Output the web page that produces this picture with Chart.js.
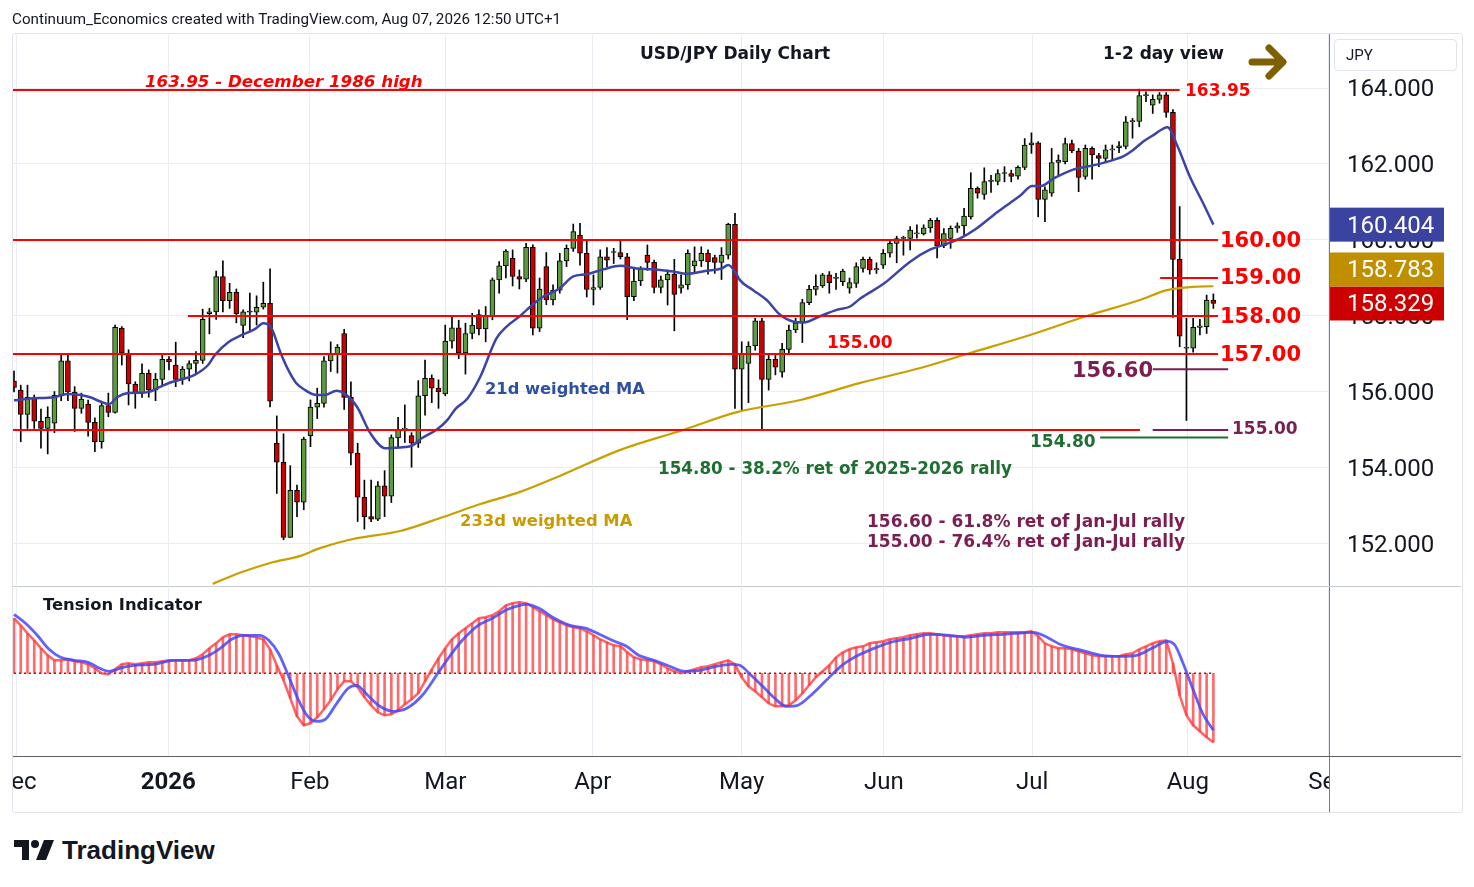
<!DOCTYPE html>
<html>
<head>
<meta charset="utf-8">
<title>USD/JPY Daily Chart</title>
<script src="https://cdn.jsdelivr.net/npm/chart.js@4.4.1/dist/chart.umd.min.js"></script>
<style>
  html, body { margin: 0; padding: 0; background: #fff; }
  body { width: 1474px; height: 887px; position: relative; overflow: hidden;
         font-family: Roboto, "Liberation Sans", Arial, sans-serif; color: #131722; }
  canvas { position: absolute; left: 0; }
  .abs { position: absolute; }
  .note { position: absolute; white-space: nowrap; line-height: 1;
          font-family: "DejaVu Sans", Verdana, sans-serif; font-weight: bold; }
</style>
</head>
<body>
<canvas id="price" width="1474" height="587" style="top:0"></canvas>
<canvas id="tension" width="1474" height="225" style="top:587px"></canvas>

<!-- masks so month labels stop at the pane edges -->
<div class="abs" style="left:0;top:757px;width:12px;height:55px;background:#fff"></div>
<div class="abs" style="left:1330px;top:757px;width:131px;height:54px;background:#fff"></div>

<!-- frame -->
<div class="abs" style="left:12px;top:33px;width:1449px;height:778px;border:1px solid #e0e3eb;border-radius:3px"></div>
<div class="abs" style="left:1329px;top:34px;width:1px;height:778px;background:#787b86"></div>
<div class="abs" style="left:13px;top:586px;width:1448px;height:1px;background:#c9ccd4"></div>
<div class="abs" style="left:13px;top:756px;width:1448px;height:1px;background:#5d606b"></div>

<div class="abs" style="left:12px;top:10px;font-size:15.2px;line-height:18px;white-space:nowrap">Continuum_Economics created with TradingView.com, Aug 07, 2026 12:50 UTC+1</div>
<div class="abs" style="left:1334px;top:39px;width:121px;height:30px;border:1px solid #e0e3eb;border-radius:4px;font-size:15px;line-height:30px;text-indent:11px">JPY</div>

<div class="note" style="left:640px;top:45px;font-size:17px;color:#131722">USD/JPY Daily Chart</div>
<div class="note" style="left:1103px;top:45px;font-size:17px;color:#131722">1-2 day view</div>
<svg class="abs" style="left:1246px;top:40px" width="46" height="44">
  <path d="M6 22 H35 M23 8 L37 22 L23 36" fill="none" stroke="#7f6000" stroke-width="7" stroke-linecap="round" stroke-linejoin="round"/>
</svg>

<div class="note" style="left:145px;top:73px;font-size:16.7px;color:#ff0000;font-style:italic">163.95 - December 1986 high</div>
<div class="note" style="left:1185px;top:82px;font-size:17px;color:#ff0000">163.95</div>
<div class="note" style="left:1220px;top:230px;font-size:21px;color:#ff0000">160.00</div>
<div class="note" style="left:1220px;top:267px;font-size:21px;color:#ff0000">159.00</div>
<div class="note" style="left:1220px;top:306px;font-size:21px;color:#ff0000">158.00</div>
<div class="note" style="left:1220px;top:344px;font-size:21px;color:#ff0000">157.00</div>
<div class="note" style="left:827px;top:334px;font-size:17px;color:#ff0000">155.00</div>
<div class="note" style="left:1072px;top:360px;font-size:21px;color:#7b1e50">156.60</div>
<div class="note" style="left:1232px;top:420px;font-size:17px;color:#7b1e50">155.00</div>
<div class="note" style="left:1030px;top:433px;font-size:17px;color:#1f6e32">154.80</div>
<div class="note" style="left:485px;top:381px;font-size:16.3px;color:#2d50a0">21d weighted MA</div>
<div class="note" style="left:658px;top:460px;font-size:16.8px;color:#1f6e32">154.80 - 38.2% ret of 2025-2026 rally</div>
<div class="note" style="left:460px;top:513px;font-size:16.4px;color:#c89b00">233d weighted MA</div>
<div class="note" style="left:867px;top:513px;font-size:17px;color:#7b1e50">156.60 - 61.8% ret of Jan-Jul rally</div>
<div class="note" style="left:867px;top:533px;font-size:17px;color:#7b1e50">155.00 - 76.4% ret of Jan-Jul rally</div>
<div class="note" style="left:43px;top:597px;font-size:16.4px;color:#131722">Tension Indicator</div>

<svg class="abs" style="left:14px;top:838px" width="42" height="24">
  <path d="M0 2 H15 V22 H8 V9 H0 Z" fill="#131722"/>
  <circle cx="21" cy="6" r="4" fill="#131722"/>
  <path d="M30 2 H40 L32 22 H22 Z" fill="#131722"/>
</svg>
<div class="abs" style="left:62px;top:836px;font-size:26px;line-height:28px;font-weight:bold;font-family:'Liberation Sans',Arial,sans-serif">TradingView</div>

<script>
const FONT_UI = 'Roboto, "Liberation Sans", Arial, sans-serif';

// daily candles, one per bar (bar 0 = first visible day in early December)
const opens = [
  156.29,156.05,155.41,155.86,155.23,155.04,155.18,155.91,156.82,156.00,
  155.57,155.68,155.20,154.69,155.64,155.46,157.68,157.02,156.21,155.97,
  156.49,156.05,156.33,156.86,156.71,156.33,156.60,156.75,156.83,158.06,
  158.11,159.04,158.40,158.62,157.75,158.11,158.10,158.23,158.33,154.65,
  154.15,152.17,153.41,153.10,154.85,155.60,155.70,156.82,156.99,157.54,
  155.86,154.39,153.23,152.72,152.65,153.53,153.26,154.79,155.02,154.85,
  154.65,155.90,156.36,156.10,155.95,157.34,157.69,157.03,157.54,158.04,
  157.66,158.00,158.95,159.32,159.52,159.04,158.97,159.81,157.68,159.30,
  158.42,158.68,159.45,159.78,160.13,159.65,158.70,158.75,159.56,159.67,
  159.67,159.56,158.51,158.92,159.60,159.41,158.75,158.95,159.10,158.73,
  158.82,159.32,159.45,159.65,159.54,159.41,159.60,160.41,156.60,156.75,
  157.21,157.87,156.33,156.86,156.52,157.12,157.63,157.82,158.35,158.70,
  158.79,159.08,158.99,158.90,158.73,158.86,159.25,159.49,159.21,159.34,
  159.65,159.91,160.04,160.04,160.16,160.16,160.32,160.52,159.85,160.04,
  160.31,160.37,160.61,161.36,161.20,161.54,161.54,161.75,161.75,161.68,
  161.91,162.50,162.56,161.07,161.23,162.04,162.06,162.54,162.34,161.67,
  162.41,162.22,162.15,162.37,162.43,162.46,163.11,163.12,163.80,163.55,
  163.70,163.82,163.36,159.49,157.15,157.15,157.70,157.72,158.42
];
const highs = [
  156.55,156.18,156.18,155.92,155.55,155.61,156.01,156.99,156.99,156.14,
  155.97,155.79,155.32,155.75,155.97,157.76,157.72,157.11,156.27,156.74,
  156.58,156.49,156.99,156.93,157.31,156.67,156.82,157.06,158.18,158.20,
  159.18,159.45,158.86,158.71,158.16,158.60,158.53,158.89,159.24,155.37,
  154.90,154.06,153.55,154.81,155.79,156.10,156.93,157.32,157.25,157.65,
  156.27,154.65,153.68,153.68,153.64,153.93,154.87,155.33,155.66,154.93,
  156.30,156.84,156.45,156.32,157.76,158.00,157.89,157.81,158.07,158.16,
  158.25,159.00,159.43,159.75,159.74,159.21,159.91,159.87,159.00,159.67,
  158.82,159.65,159.87,160.42,160.44,159.98,159.08,159.74,159.80,159.78,
  159.97,159.65,159.25,159.30,159.87,159.47,159.05,159.21,159.49,159.08,
  159.74,159.82,159.82,159.74,159.60,159.80,160.44,160.70,157.32,157.32,
  157.94,157.94,156.97,156.97,157.28,157.76,157.94,158.44,158.81,159.08,
  159.12,159.17,159.12,159.23,159.00,159.40,159.55,159.55,159.40,159.75,
  160.00,160.10,160.10,160.35,160.40,160.40,160.57,160.58,160.30,160.37,
  160.45,160.83,161.77,161.40,161.90,161.70,161.85,161.93,161.84,161.95,
  162.67,162.82,162.59,161.40,162.41,162.24,162.68,162.63,162.41,162.50,
  162.45,162.28,162.50,162.50,162.59,163.25,163.20,163.97,163.90,163.82,
  163.88,163.88,163.43,160.88,157.94,157.94,157.91,158.55,158.58
];
const lows = [
  156.00,154.69,155.04,155.04,154.52,154.37,154.93,155.77,155.77,154.96,
  155.44,154.84,154.43,154.52,155.35,155.44,156.71,155.66,155.57,155.86,
  155.86,155.77,156.18,156.58,156.14,156.20,156.29,156.47,156.75,157.53,
  157.91,158.11,158.20,157.82,157.43,157.60,157.76,158.18,155.61,153.33,
  152.11,152.17,152.72,152.90,154.56,155.30,155.60,156.54,156.50,155.54,
  154.08,152.59,152.39,152.59,152.61,152.72,153.09,154.54,154.67,154.02,
  154.54,155.39,155.72,155.57,155.90,157.15,156.88,156.47,157.40,157.50,
  157.32,157.90,158.60,159.00,158.79,158.71,158.90,157.50,157.59,158.30,
  158.29,158.60,159.30,159.70,159.34,158.50,158.29,158.70,159.30,159.38,
  159.50,157.90,158.40,158.80,159.20,158.61,158.61,158.29,157.61,158.60,
  158.70,159.12,159.30,159.10,159.12,158.96,159.50,155.57,155.53,155.72,
  157.10,155.02,156.05,156.45,156.39,157.00,157.56,157.30,158.30,158.55,
  158.75,158.60,158.70,158.80,158.60,158.75,159.15,159.10,159.12,159.25,
  159.55,159.40,159.60,159.74,160.05,160.13,160.20,159.53,159.80,159.78,
  160.20,160.09,160.55,161.10,161.07,161.25,161.45,161.53,161.53,161.60,
  161.85,162.28,160.61,160.48,161.15,161.67,162.00,162.30,161.27,161.60,
  161.60,161.93,162.05,162.10,162.30,162.40,162.68,162.98,163.64,163.33,
  163.60,163.23,157.96,157.19,155.25,157.05,157.50,157.54,158.20
];
const closes = [
  156.12,155.41,155.86,155.23,155.04,155.33,155.91,156.82,156.00,155.57,
  155.81,155.20,154.69,155.64,155.46,157.70,157.02,156.21,155.97,156.49,
  156.05,156.33,156.86,156.80,156.33,156.60,156.75,156.83,157.91,158.11,
  159.04,158.40,158.62,158.06,158.11,158.10,158.23,158.33,155.76,154.15,
  152.17,153.41,153.10,154.76,155.60,155.70,156.82,156.99,157.18,155.86,
  154.39,153.23,152.72,152.65,153.53,153.26,154.80,155.00,155.05,154.65,
  155.90,156.36,156.10,156.01,157.34,157.69,157.03,157.54,157.76,157.66,
  158.00,158.95,159.32,159.71,159.04,158.97,159.81,157.68,158.71,158.42,
  158.68,159.45,159.78,160.22,159.65,158.70,158.75,159.56,159.47,159.67,
  159.56,158.51,158.92,159.23,159.41,158.75,158.95,159.10,158.57,158.82,
  159.65,159.45,159.65,159.43,159.41,159.60,160.41,156.60,156.99,157.21,
  157.87,156.33,156.86,156.65,157.12,157.63,157.82,158.35,158.70,158.79,
  159.08,158.88,158.99,159.18,158.88,159.30,159.49,159.21,159.25,159.65,
  159.91,160.04,160.07,160.26,160.16,160.32,160.52,159.85,160.17,160.31,
  160.37,160.63,161.36,161.23,161.54,161.58,161.75,161.76,161.67,161.91,
  162.50,162.56,161.07,161.32,162.04,162.10,162.54,162.35,161.65,162.41,
  162.24,162.15,162.37,162.40,162.48,163.11,163.14,163.80,163.81,163.70,
  163.82,163.36,159.49,157.47,157.17,157.70,157.74,158.42,158.329
];

// moving averages (bar position, value)
const ma21Bars = [0,2.4,5.9,7.9,9.9,11.3,12.8,14.1,15.3,17,18.8,20.2,21.5,23.2,26.8,28.8,29.8,31.8,33.8,35.8,
  37,38.2,39.5,40.7,41.9,43.2,44.9,46.1,47.9,49.1,50.9,52.9,55.1,57.3,59,60.5,62.8,64.3,65.5,67.3,
  69.2,71.6,73.1,75.1,76.1,78.1,81,83,85,87.5,90,92.4,94.9,97.8,99.8,102.8,105,106,107,107.7,
  109.7,111.7,113.7,115.7,117.2,119.7,122.1,124.1,125.6,129,133,136,138.4,140.4,142.9,145.4,147.4,149.4,151.1,152.4,
  154.3,157.3,160.3,163.2,164.7,166.1,167.6,169.1,171.2,172.6,174.5,176.5,178];
const ma21Vals = [155.78,155.83,155.86,155.95,155.92,155.86,155.75,155.68,155.86,155.97,155.98,156.01,156.12,156.25,156.45,156.71,156.97,157.31,157.50,157.66,
  157.81,157.68,157.06,156.58,156.23,156.05,155.92,155.92,156.03,155.95,155.61,154.91,154.52,154.54,154.58,154.78,155.02,155.26,155.55,155.83,
  156.40,157.41,157.72,158.00,158.16,158.46,158.73,159.04,159.10,159.23,159.32,159.25,159.23,159.17,159.11,159.19,159.25,159.34,159.17,158.95,
  158.68,158.42,158.03,157.85,157.83,158.00,158.16,158.25,158.46,158.84,159.43,159.75,159.90,160.04,160.31,160.66,160.92,161.18,161.42,161.42,
  161.62,161.86,161.97,162.11,162.21,162.37,162.59,162.76,162.97,162.50,161.67,160.96,160.404];
const ma233Bars = [29.5,33.5,38,42.4,45.4,50.3,57.3,63.7,69.2,75.1,81,89.9,99.3,107.3,116.7,125.6,134.5,141.4,150.8,159.2,167.1,171.1,174.5,178];
const ma233Vals = [150.95,151.24,151.50,151.68,151.89,152.13,152.34,152.71,153.05,153.37,153.79,154.47,155.00,155.47,155.79,156.24,156.63,157.00,157.50,158.00,158.42,158.68,158.76,158.783];

// tension indicator: histogram/fast line per bar, slow line read at these bars
const tension = [
  55,48,40,33,25,18,13,13,14,12, 11,9,5,0,-1,4,9,10,9,10,
  11,11,12,13,13,13,13,15,19,25, 30,36,39,39,38,37,36,34,24,8,
  -7,-25,-43,-52,-50,-44,-36,-27,-16,-8, -8,-14,-24,-32,-39,-42,-41,-37,-31,-26,
  -20,-8,4,15,25,34,40,45,50,55, 56,58,62,68,70,71,70,66,62,58,
  54,51,48,46,45,42,38,34,31,28, 27,21,16,14,13,12,9,5,2,0,
  2,4,6,7,9,11,13,9,-4,-13, -18,-24,-30,-33,-33,-32,-27,-20,-12,-4,
  2,8,16,21,24,26,27,30,31,32, 34,35,36,38,39,40,40,39,38,37,
  37,37,38,39,40,40,41,41,41,41, 41,42,37,30,27,25,25,24,22,20,
  18,17,17,17,17,19,20,24,27,30, 32,33,10,-22,-42,-52,-58,-64,-69
];
const signalBars = [0,1.7,3.45,5.2,6.9,8.9,11,12.7,14.1,16.15,17.9,20.8,23.7,26.5,28.9,30.6,32.3,34.05,36.4,37.8,
  39.25,40.7,42.1,43.6,45,46.2,47.9,49.6,50.8,52.5,54.3,56.3,58.3,60.6,62.9,64.65,66.4,68.7,71,73.3,
  76.2,77.9,80.2,82.5,84.9,87.2,89.5,90.9,92.7,95,97.3,99.6,101.9,104.2,106.5,107.7,109.4,111.1,112.9,114.6,
  116.3,118.1,120.4,122.7,125,127.3,129.6,133.1,136,138.9,141.2,144,146.9,151.3,152.7,155.6,158.5,161.4,164.3,166.6,
  168.9,171.2,172.3,173.5,175.2,176.4,178];
const signalVals = [59,50,38,24,16,13,11,5,2,6,8,9,13,13,18,25,34,38,38,33,
  20,-2,-25,-43,-48,-46,-30,-15,-12,-22,-33,-38,-35,-22,0,17,32,47,55,64,
  69,65,55,48,45,38,31,27,18,13,7,2,3,7,9,8,-2,-13,-25,-33,
  -32,-23,-8,7,17,24,30,35,39,38,36,38,39,41,38,28,23,18,17,18,
  25,32,28,10,-20,-40,-57];

// axes
const monthBars = [0.3, 22.9, 43.9, 64.0, 85.9, 108.0, 129.1, 151.1, 174.2, 195.1];
const monthLabels = ['Dec', '2026', 'Feb', 'Mar', 'Apr', 'May', 'Jun', 'Jul', 'Aug', 'Sep'];
const priceTicks = [152, 154, 156, 158, 160, 162, 164];

// support / resistance levels
const levelPrices = [163.95, 160.00, 159.00, 158.00, 157.00, 155.00, 156.60, 155.00, 154.80];

const RED = '#ff0000', PURPLE = '#7b1e50', GREEN = '#1f6e32';
const levelStyle = [
  {from: -1, to: 173.0, color: RED},
  {from: -1, to: 178.7, color: RED},
  {from: 170.1, to: 178.7, color: RED},
  {from: 25.8, to: 178.7, color: RED},
  {from: -1, to: 178.7, color: RED},
  {from: -1, to: 167.1, color: RED},
  {from: 169.0, to: 180.2, color: PURPLE},
  {from: 169.0, to: 180.2, color: PURPLE},
  {from: 161.2, to: 180.2, color: GREEN},
];

const X_MIN = -0.15, X_MAX = 195.16;
const GRID = '#e8edf3';

const pairs = (xs, ys) => xs.map((x, i) => ({x, y: ys[i]}));

const levelSets = levelPrices.map((p, k) => ({
  type: 'line',
  data: [{x: levelStyle[k].from, y: p}, {x: levelStyle[k].to, y: p}],
  borderColor: levelStyle[k].color,
  borderWidth: 2,
  pointRadius: 0,
  order: 0,
}));

// price tags on the right axis; overlapping tags get pushed up like TradingView does
const lastValueTags = {
  id: 'lastValueTags',
  afterDraw(chart) {
    const y = chart.scales.y;
    const ctx = chart.ctx;
    const tags = [
      [closes[closes.length - 1], '#cc0000'],
      [ma233Vals[ma233Vals.length - 1], '#bf8f00'],
      [ma21Vals[ma21Vals.length - 1], '#3b43a0'],
    ].map(([v, c]) => ({v, c, py: y.getPixelForValue(v)}))
     .sort((a, b) => b.py - a.py);
    for (let i = 1; i < tags.length; i++) {
      if (tags[i].py > tags[i - 1].py - 34) tags[i].py = tags[i - 1].py - 34;
    }
    const left = chart.chartArea.right + 1;
    ctx.save();
    ctx.font = '24px ' + FONT_UI;
    ctx.textBaseline = 'middle';
    for (const t of tags) {
      ctx.fillStyle = t.c;
      ctx.fillRect(left, t.py - 17, 114, 34);
      ctx.fillStyle = '#ffffff';
      ctx.fillText(t.v.toFixed(3), chart.chartArea.right + 18, t.py + 2);
    }
    ctx.restore();
  }
};

const bodyColors = closes.map((c, i) => c >= opens[i] ? '#5c9c3e' : '#cc0000');

new Chart(document.getElementById('price'), {
  type: 'bar',
  data: {
    datasets: [
      ...levelSets,
      {
        type: 'line',
        data: pairs(ma21Bars, ma21Vals),
        borderColor: '#3c44a6',
        borderWidth: 2.5,
        pointRadius: 0,
        cubicInterpolationMode: 'monotone',
        order: 1,
      },
      {
        type: 'line',
        data: pairs(ma233Bars, ma233Vals),
        borderColor: '#c9a000',
        borderWidth: 2.2,
        pointRadius: 0,
        cubicInterpolationMode: 'monotone',
        order: 1,
      },
      {
        data: opens.map((o, i) => ({x: i, y: [o, closes[i]]})),
        backgroundColor: bodyColors,
        borderColor: '#000000',
        borderWidth: 1,
        borderSkipped: false,
        barThickness: 5,
        minBarLength: 1,
        grouped: false,
        order: 2,
      },
      {
        data: lows.map((l, i) => ({x: i, y: [l, highs[i]]})),
        backgroundColor: '#000000',
        borderWidth: 0,
        barThickness: 1,
        grouped: false,
        order: 3,
      },
    ]
  },
  options: {
    responsive: false,
    animation: false,
    layout: {padding: {left: 13, top: 35, right: 0, bottom: 2}},
    plugins: {legend: {display: false}, tooltip: {enabled: false}},
    scales: {
      x: {
        type: 'linear',
        min: X_MIN, max: X_MAX,
        offset: false,
        grid: {color: GRID, drawTicks: false, offset: false},
        border: {display: false},
        ticks: {display: false},
        afterBuildTicks: s => { s.ticks = monthBars.map(v => ({value: v})); },
        afterFit: s => { s.height = 0; s.paddingLeft = 0; s.paddingRight = 0; },
      },
      y: {
        position: 'right',
        min: 150.92, max: 165.395,
        grid: {color: GRID, drawTicks: false},
        border: {display: false},
        ticks: {
          padding: 18,
          labelOffset: 2,
          color: '#131722',
          font: {size: 24, family: FONT_UI},
          callback: v => Number(v).toFixed(3),
        },
        afterBuildTicks: s => { s.ticks = priceTicks.map(v => ({value: v})); },
        afterFit: s => { s.width = 145; s.paddingTop = 0; s.paddingBottom = 0; },
      }
    }
  },
  plugins: [lastValueTags]
});

new Chart(document.getElementById('tension'), {
  type: 'bar',
  data: {
    datasets: [
      {
        type: 'line',
        data: pairs(signalBars, signalVals),
        borderColor: 'rgba(70,70,250,0.85)',
        borderWidth: 2.8,
        pointRadius: 0,
        cubicInterpolationMode: 'monotone',
        order: 0,
      },
      {
        type: 'line',
        data: tension.map((v, i) => ({x: i, y: v})),
        borderColor: 'rgba(255,60,60,0.8)',
        borderWidth: 2.5,
        pointRadius: 0,
        order: 1,
      },
      {
        type: 'line',
        data: [{x: 0, y: 0}, {x: tension.length - 1, y: 0}],
        borderColor: '#dd0000',
        borderWidth: 1.5,
        borderDash: [2, 3],
        pointRadius: 0,
        order: 2,
      },
      {
        data: tension.map((v, i) => ({x: i, y: v})),
        backgroundColor: 'rgba(255,70,70,0.8)',
        borderWidth: 0,
        barThickness: 2,
        grouped: false,
        order: 3,
      },
    ]
  },
  options: {
    responsive: false,
    animation: false,
    layout: {padding: {left: 13, top: 1, right: 0, bottom: 0}},
    plugins: {legend: {display: false}, tooltip: {enabled: false}},
    scales: {
      x: {
        type: 'linear',
        min: X_MIN, max: X_MAX,
        offset: false,
        grid: {color: GRID, drawTicks: false, offset: false},
        border: {display: false},
        ticks: {
          autoSkip: false,
          maxRotation: 0,
          padding: 13,
          color: '#131722',
          font: c => ({size: 24, family: FONT_UI, weight: c.index === 1 ? 'bold' : 'normal'}),
          callback: (v, i) => monthLabels[i],
        },
        afterBuildTicks: s => { s.ticks = monthBars.map(v => ({value: v})); },
        afterFit: s => { s.height = 56; s.paddingLeft = 0; s.paddingRight = 0; },
      },
      y: {
        position: 'right',
        min: -82.7, max: 85.3,
        grid: {display: false},
        border: {display: false},
        ticks: {display: false},
        afterFit: s => { s.width = 145; s.paddingTop = 0; s.paddingBottom = 0; },
      }
    }
  }
});
</script>
</body>
</html>
